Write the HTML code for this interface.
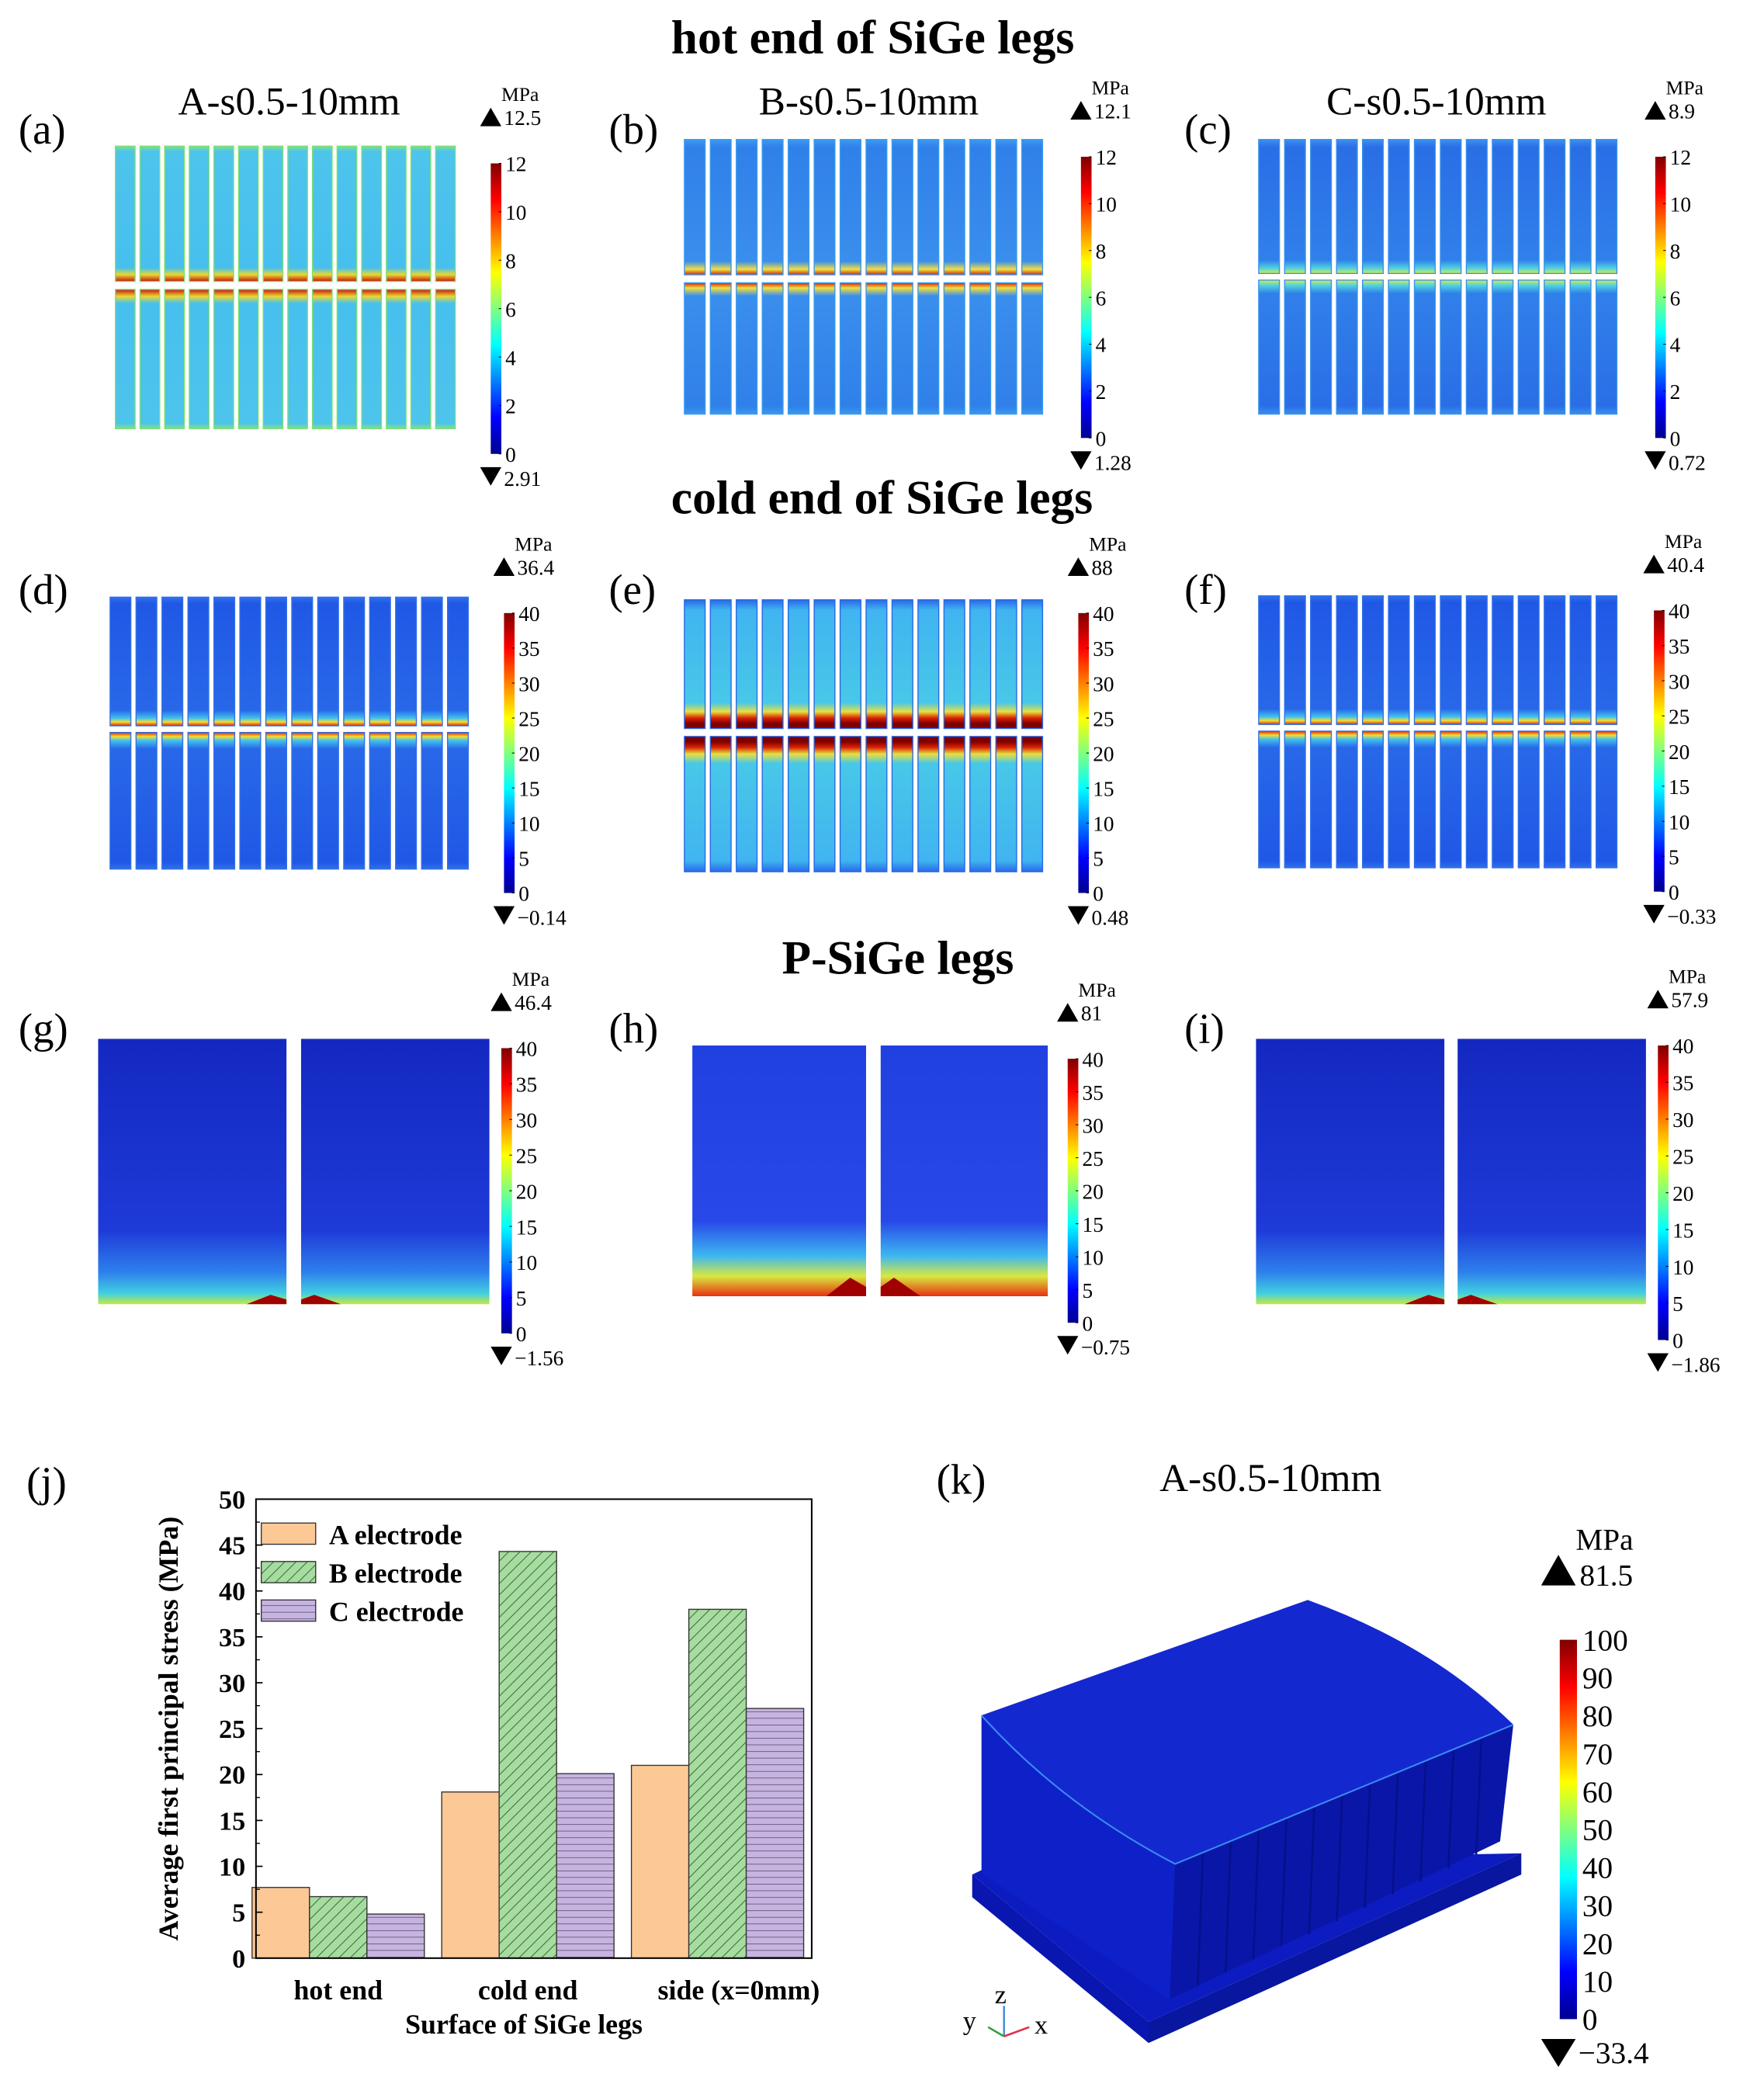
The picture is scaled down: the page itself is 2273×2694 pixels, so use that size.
<!DOCTYPE html>
<html><head><meta charset="utf-8"><style>
html,body{margin:0;padding:0;background:#fff}
svg{display:block;font-family:"Liberation Serif","DejaVu Serif",serif}
svg text{font-family:"Liberation Serif","DejaVu Serif",serif;fill:#000}
</style></head><body>
<svg id="fig" width="2273" height="2694" viewBox="0 0 1330 1576" font-family="Liberation Serif, serif" xmlns="http://www.w3.org/2000/svg">
<defs>
<linearGradient id="jet" x1="0" y1="1" x2="0" y2="0">
<stop offset="0" stop-color="#00008f"/><stop offset="0.125" stop-color="#0000ff"/><stop offset="0.375" stop-color="#00ffff"/><stop offset="0.625" stop-color="#ffff00"/><stop offset="0.875" stop-color="#ff0000"/><stop offset="1" stop-color="#800000"/></linearGradient>
<linearGradient id="gA" x1="0" y1="0" x2="0" y2="1"><stop offset="0" stop-color="#7fe08a"/><stop offset="0.04" stop-color="#4cc4ec"/><stop offset="0.9" stop-color="#48c0ee"/><stop offset="0.95" stop-color="#e8d830"/><stop offset="1" stop-color="#c81010"/></linearGradient>
<linearGradient id="gB" x1="0" y1="0" x2="0" y2="1"><stop offset="0" stop-color="#3a9af0"/><stop offset="0.06" stop-color="#3080ea"/><stop offset="0.9" stop-color="#3a8eec"/><stop offset="0.96" stop-color="#f0e040"/><stop offset="1" stop-color="#d02010"/></linearGradient>
<linearGradient id="gC" x1="0" y1="0" x2="0" y2="1"><stop offset="0" stop-color="#3a90ee"/><stop offset="0.06" stop-color="#2a6ee6"/><stop offset="0.9" stop-color="#3080ea"/><stop offset="0.96" stop-color="#50d0e0"/><stop offset="1" stop-color="#d8f040"/></linearGradient>
<linearGradient id="gD" x1="0" y1="0" x2="0" y2="1"><stop offset="0" stop-color="#3070ea"/><stop offset="0.05" stop-color="#2058e6"/><stop offset="0.88" stop-color="#2868e8"/><stop offset="0.94" stop-color="#40c0f0"/><stop offset="0.97" stop-color="#f0e030"/><stop offset="1" stop-color="#e02010"/></linearGradient>
<linearGradient id="gE" x1="0" y1="0" x2="0" y2="1"><stop offset="0" stop-color="#2868e8"/><stop offset="0.08" stop-color="#40b4f0"/><stop offset="0.8" stop-color="#48c8e8"/><stop offset="0.87" stop-color="#e8e040"/><stop offset="0.92" stop-color="#d82000"/><stop offset="0.96" stop-color="#800000"/><stop offset="1" stop-color="#800000"/></linearGradient>
<linearGradient id="gG" x1="0" y1="0" x2="0" y2="1"><stop offset="0" stop-color="#1428c0"/><stop offset="0.72" stop-color="#1e3ad8"/><stop offset="0.88" stop-color="#2e80ec"/><stop offset="0.96" stop-color="#40d0e0"/><stop offset="1" stop-color="#c8e840"/></linearGradient>
<linearGradient id="gH" x1="0" y1="0" x2="0" y2="1"><stop offset="0" stop-color="#2040e0"/><stop offset="0.7" stop-color="#2848e8"/><stop offset="0.84" stop-color="#3cb8f0"/><stop offset="0.92" stop-color="#d8e840"/><stop offset="1" stop-color="#e83010"/></linearGradient>
<pattern id="hatchB" patternUnits="userSpaceOnUse" width="6" height="6" patternTransform="rotate(45)"><rect width="6" height="6" fill="#a6dca0"/><line x1="0" y1="0" x2="0" y2="6" stroke="#2a5a2a" stroke-width="1"/></pattern>
<pattern id="hatchC" patternUnits="userSpaceOnUse" width="6" height="5"><rect width="6" height="5" fill="#c6b4e0"/><line x1="0" y1="0" x2="6" y2="0" stroke="#4a3a5e" stroke-width="0.8"/></pattern>
</defs>
<g id="root"></g>
<g id="kbox">
<polygon points="733,1413 866,1524 866,1540 733,1430" fill="#0a16b0"/>
<polygon points="866,1524 1147,1397 1147,1413 866,1540" fill="#0816a0"/>
<polygon points="733,1413 750,1405 1147,1397 866,1524" fill="#0c1cc0"/>
<polygon points="740,1293 886,1405 882,1507 740,1412" fill="#0e20c8"/>
<polygon points="886,1405 1141,1300 1131,1388 882,1507" fill="#0a16a8"/>
<g stroke="#06108a" stroke-width="1.5">
<line x1="907" y1="1396" x2="903" y2="1497"/><line x1="928" y1="1387" x2="924" y2="1487"/><line x1="949" y1="1378" x2="945" y2="1477"/><line x1="970" y1="1370" x2="966" y2="1467"/><line x1="991" y1="1361" x2="987" y2="1458"/><line x1="1012" y1="1353" x2="1008" y2="1448"/><line x1="1033" y1="1344" x2="1029" y2="1438"/><line x1="1054" y1="1336" x2="1050" y2="1428"/><line x1="1075" y1="1327" x2="1071" y2="1418"/><line x1="1096" y1="1318" x2="1092" y2="1408"/><line x1="1117" y1="1310" x2="1113" y2="1398"/>
</g>
<path d="M740,1293 L986,1206 Q1080,1240 1141,1300 L886,1405 Q800,1360 740,1293 Z" fill="#1428d0"/>
<path d="M740,1293 Q800,1360 886,1405 L1141,1300" fill="none" stroke="#3a8cf0" stroke-width="1.2"/>
</g>
<g>
<line x1="757" y1="1535" x2="757" y2="1512" stroke="#4a90d8" stroke-width="1.5"/>
<line x1="757" y1="1535" x2="776" y2="1528" stroke="#e03050" stroke-width="1.5"/>
<line x1="757" y1="1535" x2="745" y2="1528" stroke="#30a040" stroke-width="1.5"/>
<text x="750" y="1510" font-size="20">z</text><text x="726" y="1530" font-size="20">y</text><text x="780" y="1533" font-size="20">x</text>
</g>
</svg>
<script>
const NS="http://www.w3.org/2000/svg";
const root=document.getElementById('root');
function mk(tag,attrs,parent){const e=document.createElementNS(NS,tag);for(const k in attrs)e.setAttribute(k,attrs[k]);(parent||root).appendChild(e);return e;}
function txt(x,y,s,size,opts,parent){opts=opts||{};const t=mk('text',Object.assign({x:x,y:y,'font-size':size,'font-family':'Liberation Serif, serif'},opts),parent);t.textContent=s;return t;}

let t;
t=txt(658,40,'hot end of SiGe legs',36,{'text-anchor':'middle','font-weight':'bold'});


t=txt(665,387,'cold end of SiGe legs',36,{'text-anchor':'middle','font-weight':'bold'});


t=txt(677,734,'P-SiGe legs',36,{'text-anchor':'middle','font-weight':'bold'});



const panelLabels=['(a)','(b)','(c)','(d)','(e)','(f)','(g)','(h)','(i)'];
const labelPos=[[14,108],[459,108],[893,108],[14,455],[459,455],[893,455],[14,786],[459,786],[893,786]];
const subtitles=[['A-s0.5-10mm',218,86],['B-s0.5-10mm',655,86],['C-s0.5-10mm',1083,86]];
const stripPanels=[
 [87,347,110,212,218,323,'gA','#7fe070'],
 [516,790,105,207,213,312,'gB','#3a9af0'],
 [949,1223,105,206,211,312,'gC','#3a90ee'],
 [83,357,450,547,552,655,'gD','#3070ea'],
 [516,790,452,549,555,657,'gE','#2868e8'],
 [949,1223,449,546,551,654,'gD','#3070ea']];
const blockPanels=[[74,216,227,369,783,983,'gG'],[522,653,664,790,788,977,'gH'],[947,1089,1099,1241,783,983,'gG']];
const cbars=[[370,123,342,12,2,'12.5','2.91'],[815,118,330,12,2,'12.1','1.28'],[1248,118,330,12,2,'8.9','0.72'],
 [380,462,673,40,5,'36.4','\u22120.14'],[813,462,673,40,5,'88','0.48'],[1247,460,672,40,5,'40.4','\u22120.33'],
 [378,790,1005,40,5,'46.4','\u22121.56'],[805,798,997,40,5,'81','\u22120.75'],[1250,788,1010,40,5,'57.9','\u22121.86']];

panelLabels.forEach((l,i)=>{const e=txt(labelPos[i][0],labelPos[i][1],l,32);

});
subtitles.forEach(s=>{const e=txt(s[1],s[2],s[0],30,{'text-anchor':'middle'});

});

stripPanels.forEach((p,pi)=>{
 const g=mk('g',{});
 
 
 const n=14,pitch=(p[1]-p[0])/n,w=pitch*0.8;
 for(let k=0;k<n;k++){
  const x=p[0]+k*pitch;
  const r1=mk('rect',{x:x,y:p[2],width:w,height:p[3]-p[2],fill:'url(#'+p[6]+')',stroke:p[7],'stroke-width':0.8},g);
  
  
  const r2=mk('rect',{x:x,y:p[4],width:w,height:p[5]-p[4],fill:'url(#'+p[6]+')',stroke:p[7],'stroke-width':0.8,transform:'translate(0,'+(p[4]+p[5])+') scale(1,-1)'},g);
  
  
 }
});
blockPanels.forEach((p,pi)=>{
 const g=mk('g',{});
 
 
 const a=mk('rect',{x:p[0],y:p[4],width:p[1]-p[0],height:p[5]-p[4],fill:'url(#'+p[6]+')'},g);
 
 
 const b=mk('rect',{x:p[2],y:p[4],width:p[3]-p[2],height:p[5]-p[4],fill:'url(#'+p[6]+')'},g);
 
 
 const h=pi==1?14:7;
 mk('polygon',{points:(p[1]-30)+','+p[5]+' '+(p[1]-12)+','+(p[5]-h)+' '+p[1]+','+(p[5]-h/2)+' '+p[1]+','+p[5],fill:'#a00000'},g);
 mk('polygon',{points:p[2]+','+p[5]+' '+p[2]+','+(p[5]-h/2)+' '+(p[2]+10)+','+(p[5]-h)+' '+(p[2]+30)+','+p[5],fill:'#a00000'},g);
});
cbars.forEach((c,ci)=>{
 const g=mk('g',{});
 
 
 mk('rect',{x:c[0],y:c[1],width:8,height:c[2]-c[1],fill:'url(#jet)'},g);
 for(let v=0;v<=c[3];v+=c[4]){const y=c[2]-(c[2]-c[1])*v/c[3];
  mk('line',{x1:c[0]+6,x2:c[0]+8,y1:y,y2:y,stroke:'#000','stroke-width':0.6},g);
  txt(c[0]+11,y+6,String(v),16,{},g);}
 txt(c[0]+8,c[1]-47,'MPa',15,{},g);
 mk('polygon',{points:(c[0]-8)+','+(c[1]-28)+' '+c[0]+','+(c[1]-42)+' '+(c[0]+8)+','+(c[1]-28)},g);
 txt(c[0]+10,c[1]-29,c[5],16,{},g);
 mk('polygon',{points:(c[0]-8)+','+(c[2]+10)+' '+c[0]+','+(c[2]+24)+' '+(c[0]+8)+','+(c[2]+10)},g);
 txt(c[0]+10,c[2]+24,c[6],16,{},g);
});

t=txt(706,1126,'(k)',32);


t=txt(958,1124,'A-s0.5-10mm',30,{'text-anchor':'middle'});


(function(){const g=mk('g',{});
 
 
 const x=1176,y0=1236,y1=1522;
 mk('rect',{x:x,y:y0,width:13,height:y1-y0,fill:'url(#jet)'},g);
 for(let v=0;v<=100;v+=10){const y=y1-(y1-y0)*v/100;txt(x+17,y+8,String(v),23,{},g);}
 txt(x+12,1168,'MPa',23,{},g);
 mk('polygon',{points:(x-14)+',1195 '+(x-1)+',1172 '+(x+12)+',1195'},g);
 txt(x+15,1195,'81.5',23,{},g);
 mk('polygon',{points:(x-14)+',1537 '+(x-1)+',1558 '+(x+12)+',1537'},g);
 txt(x+14,1555,'\u221233.4',23,{},g);
})();

// (j) bar chart
const categories=['hot end','cold end','side (x=0mm)'];
const seriesNames=['A electrode','B electrode','C electrode'];
const seriesA=[7.7,18.1,21.0];
const seriesB=[6.7,44.3,38.0];
const seriesC=[4.8,20.1,27.2];
const yTicks=[0,5,10,15,20,25,30,35,40,45,50];
const PX0=193,PX1=612,PY0=1476,PY1=1130,YMAX=50;
const yS=v=>PY0-(PY0-PY1)*v/YMAX;
const groupCenters=[255,398,541];
const BW=43.3;
const fills=['#fcc896','url(#hatchB)','url(#hatchC)'];
t=txt(20,1128,'(j)',32);


const chart=mk('g',{});


[seriesA,seriesB,seriesC].forEach((s,si)=>{
 s.forEach((v,ci)=>{
  const x=groupCenters[ci]-1.5*BW+si*BW;
  const r=mk('rect',{x:x,y:yS(v),width:BW,height:PY0-yS(v),fill:fills[si],stroke:'#333','stroke-width':0.8},chart);
  
  
 });
});
mk('rect',{x:PX0,y:PY1,width:PX1-PX0,height:PY0-PY1,fill:'none',stroke:'#000','stroke-width':1.2},chart);
yTicks.forEach(v=>{const y=yS(v);
 mk('line',{x1:PX0,x2:PX0+5,y1:y,y2:y,stroke:'#000','stroke-width':1},chart);
 if(v<YMAX) mk('line',{x1:PX0,x2:PX0+3,y1:yS(v+2.5),y2:yS(v+2.5),stroke:'#000','stroke-width':0.8},chart);
 const e=txt(PX0-8,y+7,String(v),20,{'text-anchor':'end','font-weight':'bold'},chart);
 
 
});
categories.forEach((c,ci)=>{const e=txt(groupCenters[ci]+(ci==2?16:0),1507,c,21,{'text-anchor':'middle','font-weight':'bold'},chart);
 
 });
t=txt(395,1533,'Surface of SiGe legs',21,{'text-anchor':'middle','font-weight':'bold'},chart);


t=txt(0,0,'Average first principal stress (MPa)',21,{'text-anchor':'middle','font-weight':'bold',transform:'translate(134,1303) rotate(-90)'},chart);


seriesNames.forEach((n,i)=>{const y=1148+i*29;
 const lg=mk('g',{},chart);
 
 
 mk('rect',{x:197,y:y,width:41,height:16,fill:fills[i],stroke:'#333','stroke-width':0.8},lg);
 txt(248,y+16,n,21,{'font-weight':'bold'},lg);
});
</script>
</body></html>
